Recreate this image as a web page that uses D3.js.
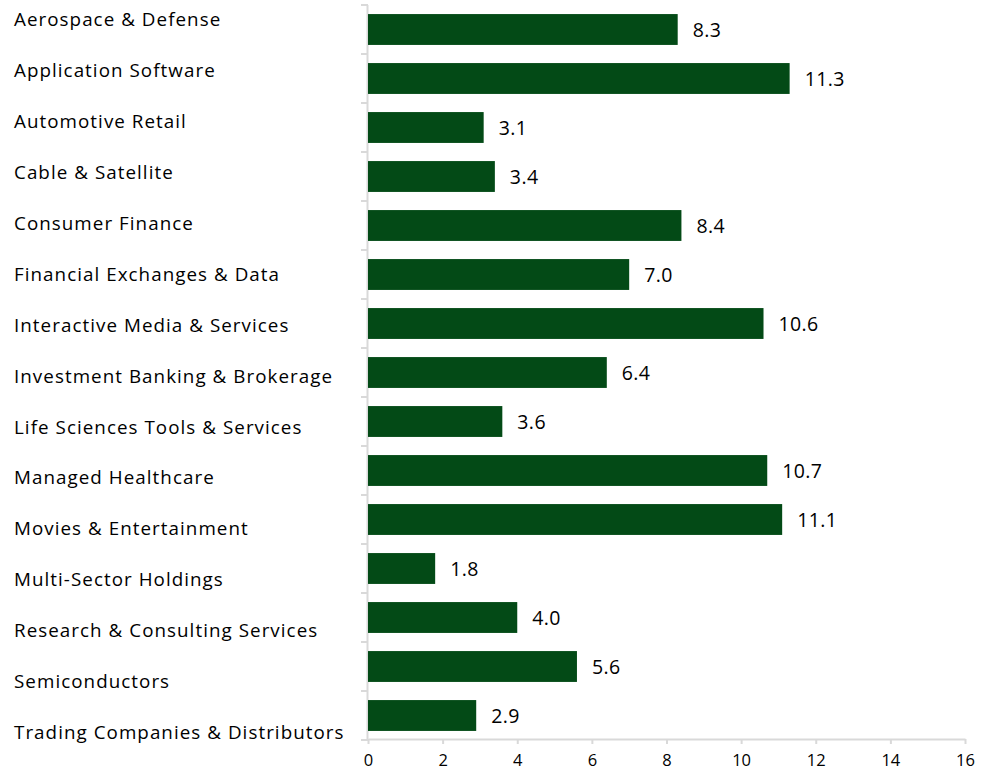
<!DOCTYPE html>
<html><head><meta charset="utf-8">
<script src="https://cdn.jsdelivr.net/npm/d3@7"></script>
<style>body{margin:0;background:#fff}svg{display:block}</style>
</head><body>
<svg id="c" width="987" height="773"></svg>
<script>
const categories = ["Aerospace & Defense","Application Software","Automotive Retail","Cable & Satellite","Consumer Finance","Financial Exchanges & Data","Interactive Media & Services","Investment Banking & Brokerage","Life Sciences Tools & Services","Managed Healthcare","Movies & Entertainment","Multi-Sector Holdings","Research & Consulting Services","Semiconductors","Trading Companies & Distributors"];
const values = [8.3,11.3,3.1,3.4,8.4,7.0,10.6,6.4,3.6,10.7,11.1,1.8,4.0,5.6,2.9];
const xTicks = [0,2,4,6,8,10,12,14,16];

const svg = d3.select("#c");
const font = "'Open Sans', sans-serif";
const x = d3.scaleLinear().domain([0,16]).range([368,965]);
const y = d3.scaleBand().domain(categories).range([5,740]).paddingInner(0.37).paddingOuter(0.185);
const yLab = d3.scalePoint().domain(categories).range([19.5,732.5]);
const axisColor = "#d9d9d9";

svg.append("line").attr("x1",367.5).attr("x2",367.5).attr("y1",5).attr("y2",740)
  .attr("stroke",axisColor).attr("stroke-width",2);
const bounds = categories.map(c=>y(c)-y.step()*y.paddingInner()/2).concat([740]);
svg.selectAll("line.yt").data(bounds).join("line").attr("class","yt")
  .attr("x1",361).attr("x2",368).attr("y1",d=>d).attr("y2",d=>d)
  .attr("stroke",axisColor).attr("stroke-width",2);

const xAxis = svg.append("g").attr("transform","translate(0,739)")
  .call(d3.axisBottom(x).tickValues(xTicks).tickSize(5).tickSizeOuter(0).tickPadding(10));
xAxis.select(".domain").attr("stroke",axisColor).attr("stroke-width",2);
xAxis.selectAll(".tick line").attr("stroke",axisColor).attr("stroke-width",2);
xAxis.selectAll(".tick text").attr("fill","#000").style("font-family",font).style("font-size","16.5px");

svg.selectAll("rect.bar").data(values).join("rect").attr("class","bar")
  .attr("x",x(0)).attr("y",(d,i)=>y(categories[i]))
  .attr("width",d=>x(d)-x(0)).attr("height",y.bandwidth())
  .attr("fill","#034a16");

svg.selectAll("text.val").data(values).join("text").attr("class","val")
  .attr("x",d=>x(d)+15).attr("y",(d,i)=>y(categories[i])+y.bandwidth()/2)
  .attr("dy","0.36em").style("font-family",font).style("font-size","19.5px")
  .style("letter-spacing","0.4px").attr("fill","#000")
  .text(d=>d.toFixed(1));

svg.selectAll("text.cat").data(categories).join("text").attr("class","cat")
  .attr("x",14).attr("y",d=>yLab(d)).attr("dy","0.35em")
  .style("font-family",font).style("font-size","18.8px").style("letter-spacing","1.05px").attr("fill","#000")
  .text(d=>d);
</script>
</body></html>
